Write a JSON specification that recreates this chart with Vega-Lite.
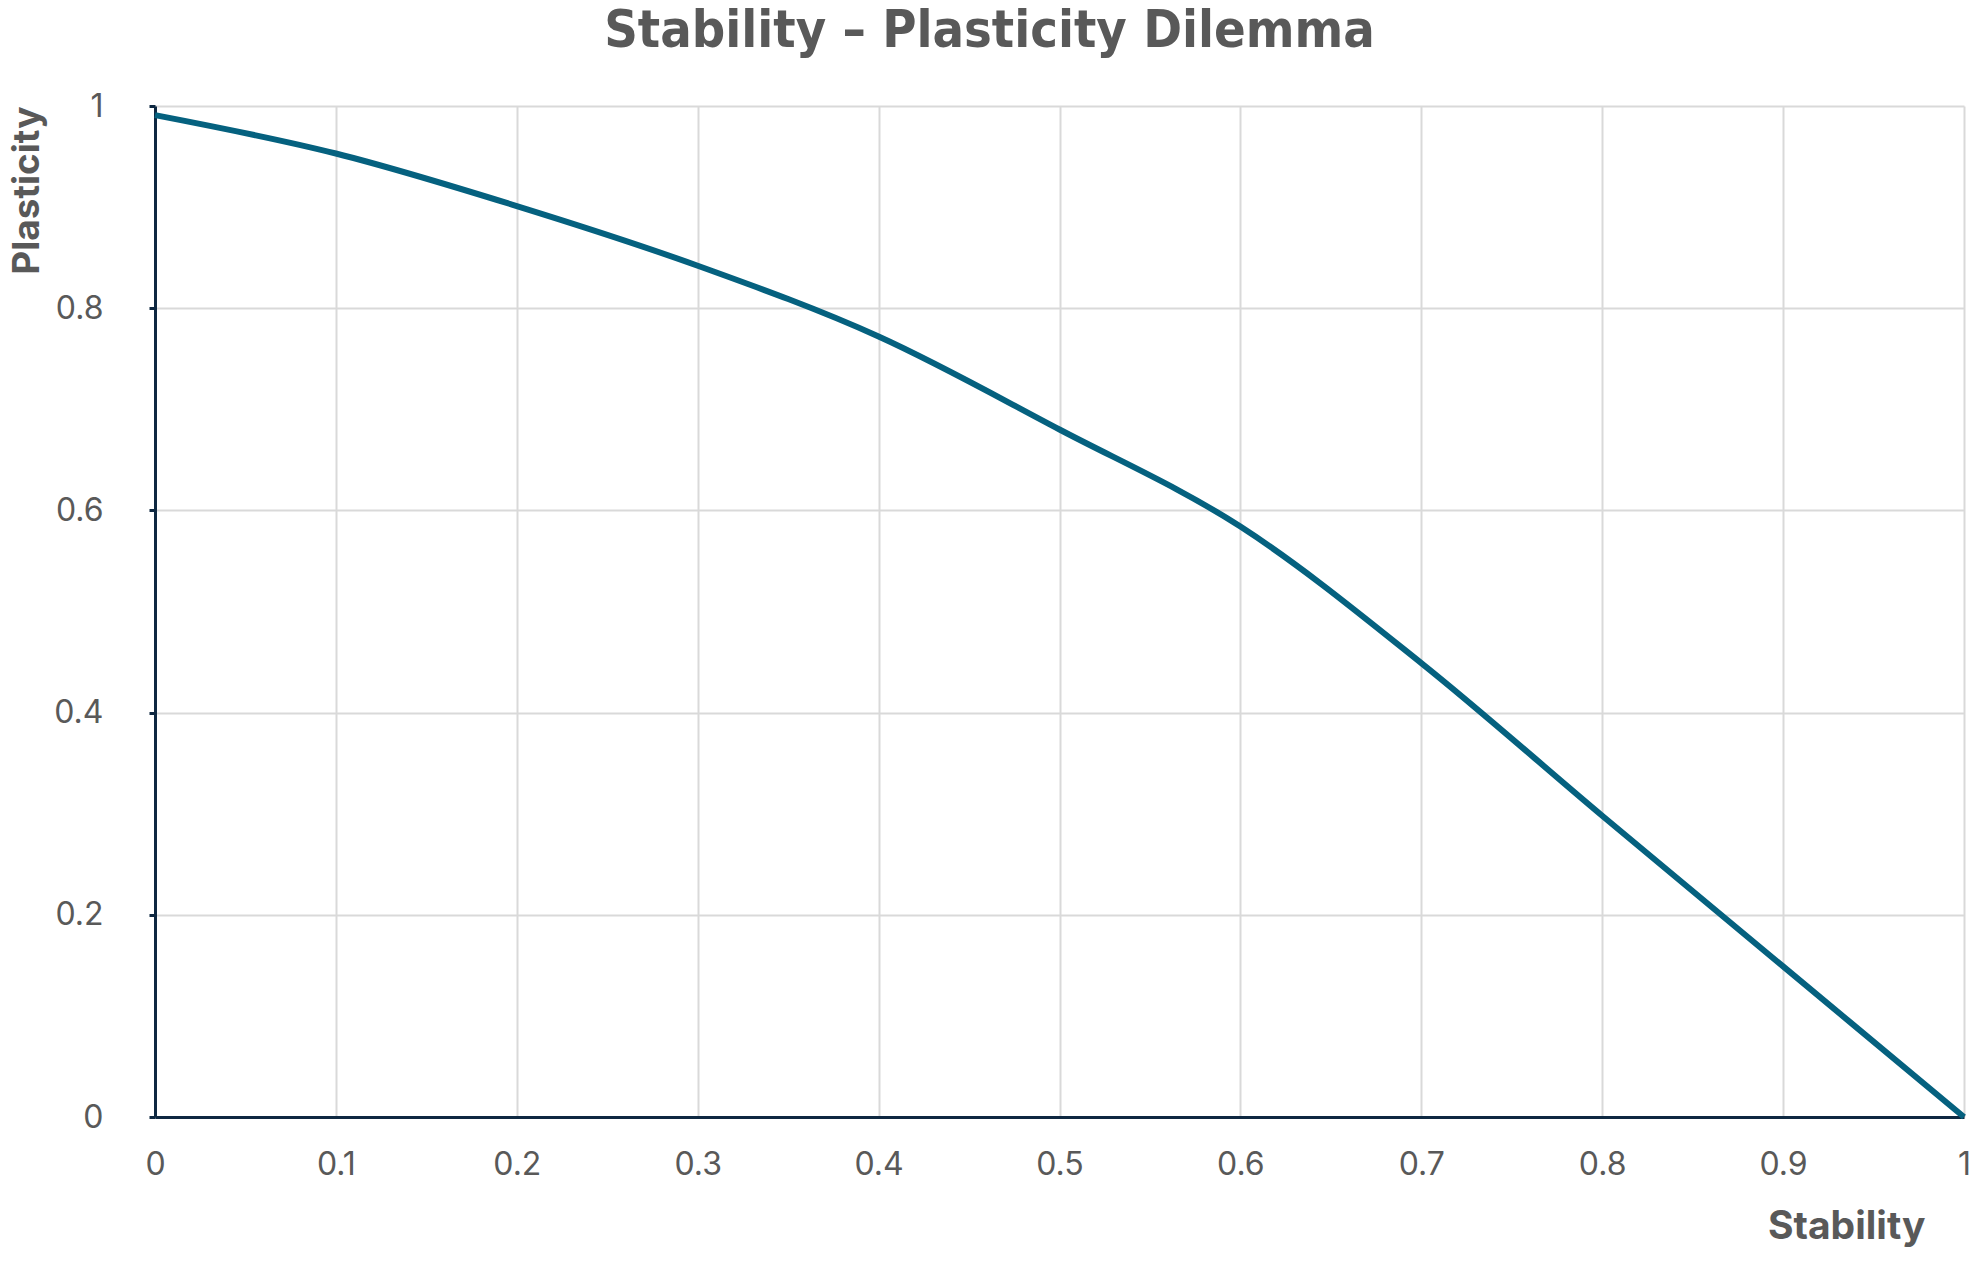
{
  "$schema": "https://vega.github.io/schema/vega-lite/v6.json",
  "description": "Stability vs plasticity trade-off curve.",
  "width": 1809,
  "height": 1011,
  "autosize": {"type": "none"},
  "padding": {"left": 155, "top": 106, "right": 15, "bottom": 145},
  "background": "white",
  "title": {
    "text": "Stability – Plasticity Dilemma",
    "font": "DejaVu Sans Condensed, Liberation Sans Narrow, Roboto",
    "fontSize": 52,
    "fontWeight": "bold",
    "color": "#595959",
    "anchor": "middle",
    "frame": "group",
    "dx": -70,
    "offset": 32
  },
  "data": {
    "values": [
      {"stability": 0.0, "plasticity": 0.991},
      {"stability": 0.1, "plasticity": 0.953},
      {"stability": 0.2, "plasticity": 0.901},
      {"stability": 0.3, "plasticity": 0.842},
      {"stability": 0.4, "plasticity": 0.772},
      {"stability": 0.5, "plasticity": 0.68},
      {"stability": 0.6, "plasticity": 0.584},
      {"stability": 0.7, "plasticity": 0.449},
      {"stability": 0.8, "plasticity": 0.298},
      {"stability": 0.9, "plasticity": 0.149},
      {"stability": 1.0, "plasticity": 0.0}
    ]
  },
  "mark": {"type": "line", "color": "#05617F", "strokeWidth": 6, "interpolate": "monotone"},
  "encoding": {
    "x": {
      "field": "stability",
      "type": "quantitative",
      "scale": {"domain": [0, 1], "nice": false},
      "axis": {
        "title": "Stability",
        "values": [0, 0.1, 0.2, 0.3, 0.4, 0.5, 0.6, 0.7, 0.8, 0.9, 1],
        "format": "~g",
        "labelOverlap": false,
        "labelFont": "Inter",
        "labelFontSize": 32,
        "labelColor": "#595959",
        "labelPadding": 32,
        "labelFlush": false,
        "ticks": false,
        "domainColor": "#0E2841",
        "domainWidth": 3,
        "gridColor": "#d9d9d9",
        "gridWidth": 2,
        "titleFont": "Inter",
        "titleFontSize": 39,
        "titleFontWeight": "bold",
        "titleColor": "#595959",
        "titleAlign": "right",
        "titleAnchor": null,
        "titleX": 1770,
        "titleY": 121,
        "titleBaseline": "alphabetic"
      }
    },
    "y": {
      "field": "plasticity",
      "type": "quantitative",
      "scale": {"domain": [0, 1], "nice": false},
      "axis": {
        "title": "Plasticity",
        "values": [0, 0.2, 0.4, 0.6, 0.8, 1],
        "format": "~g",
        "labelOverlap": false,
        "labelFont": "Inter",
        "labelFontSize": 32,
        "labelColor": "#595959",
        "labelPadding": 46,
        "labelFlush": false,
        "tickColor": "#0E2841",
        "tickSize": 6,
        "tickWidth": 3,
        "domainColor": "#0E2841",
        "domainWidth": 3,
        "gridColor": "#d9d9d9",
        "gridWidth": 2,
        "titleFont": "Inter",
        "titleFontSize": 37,
        "titleFontWeight": "bold",
        "titleColor": "#595959",
        "titleAngle": -90,
        "titleAlign": "right",
        "titleBaseline": "top",
        "titleX": -146,
        "titleY": 0
      }
    }
  },
  "config": {"view": {"stroke": null}}
}
